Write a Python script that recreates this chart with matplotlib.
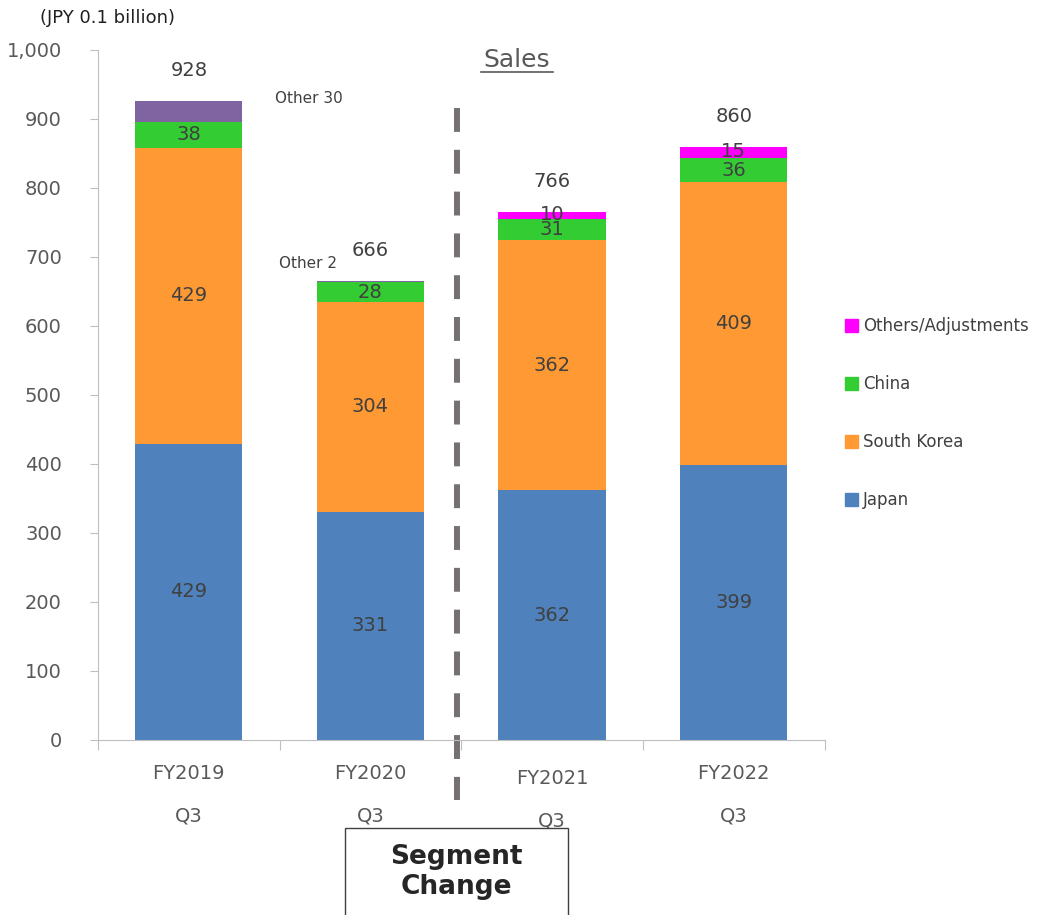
import numpy as np
import matplotlib
matplotlib.use("Agg")
import matplotlib.pyplot as plt
from matplotlib.patches import Rectangle, Patch

# quarterly sales by segment (JPY 0.1 billion)
periods = ["FY2019", "FY2020", "FY2021", "FY2022"]
japan = [429, 331, 362, 399]
south_korea = [429, 304, 362, 409]
china = [38, 28, 31, 36]
other_old = [30, 2, 0, 0]        # pre-change "Other" segment
others_adj = [0, 0, 10, 15]      # post-change Others/Adjustments
totals = [928, 666, 766, 860]

c_japan = "#4F81BD"
c_korea = "#FF9933"
c_china = "#33CC33"
c_other = "#8064A2"
c_adj = "#FF00FF"
txt = "#404040"
tick_c = "#595959"

fig = plt.figure(figsize=(10.45, 9.15), dpi=100)
ax = fig.add_axes([0.0938, 0.1913, 0.6952, 0.7541])

x = np.arange(len(periods))
w = 0.59
b1 = np.array(japan)
b2 = b1 + np.array(south_korea)
b3 = b2 + np.array(china)
b4 = b3 + np.array(other_old)

ax.bar(x, japan, w, color=c_japan)
ax.bar(x, south_korea, w, bottom=b1, color=c_korea)
ax.bar(x, china, w, bottom=b2, color=c_china)
ax.bar(x, other_old, w, bottom=b3, color=c_other)
ax.bar(x, others_adj, w, bottom=b4, color=c_adj)

for i in range(len(x)):
    ax.text(x[i], b1[i] / 2, str(japan[i]), ha="center", va="center", fontsize=14, color=txt)
    ax.text(x[i], b1[i] + south_korea[i] / 2, str(south_korea[i]), ha="center", va="center", fontsize=14, color=txt)
    ax.text(x[i], b2[i] + china[i] / 2, str(china[i]), ha="center", va="center", fontsize=14, color=txt)
    if others_adj[i]:
        ax.text(x[i], b4[i] + others_adj[i] / 2 + 2, str(others_adj[i]), ha="center", va="center", fontsize=14, color=txt)
    ax.text(x[i], b4[i] + others_adj[i] + 44, str(totals[i]), ha="center", va="center", fontsize=14, color=txt)

# labels for the small old "Other" segment
ax.text(0.474, 929, "Other %d" % other_old[0], ha="left", va="center", fontsize=11, color=txt)
ax.text(0.496, 690, "Other %d" % other_old[1], ha="left", va="center", fontsize=11, color=txt)

ax.set_xlim(-0.5, 3.5)
ax.set_ylim(0, 1000)
ax.set_yticks(range(0, 1001, 100))
ax.set_yticklabels(["{:,}".format(v) for v in range(0, 1001, 100)])
ax.tick_params(axis="y", colors="#BFBFBF", labelcolor=tick_c, labelsize=14, length=6, direction="out", pad=20)
ax.set_xticks(np.arange(-0.5, 3.6, 1.0))
ax.set_xticklabels([])
ax.tick_params(axis="x", colors="#BFBFBF", length=7, direction="out")
for s in ["top", "right"]:
    ax.spines[s].set_visible(False)
ax.spines["left"].set_color("#BFBFBF")
ax.spines["bottom"].set_color("#BFBFBF")

# category labels on two lines
for i, p in enumerate(periods):
    dy = 8 if i == 2 else 0
    ax.text(x[i], -48 - dy, p, ha="center", va="center", fontsize=14, color=tick_c, clip_on=False)
    ax.text(x[i], -110 - dy, "Q3", ha="center", va="center", fontsize=14, color=tick_c, clip_on=False)

# segment change divider
ax.plot([1.475, 1.475], [916, -87], color="#767171", lw=4.3, ls=(0, (4, 3)),
        solid_capstyle="butt", dash_capstyle="butt", clip_on=False)

ax.text(1.805, 985, "Sales", ha="center", va="center", fontsize=18, color=tick_c)
ax.plot([1.607, 2.003], [968, 968], color=tick_c, lw=1.2)

fig.text(0.038, 0.98, "(JPY 0.1 billion)", ha="left", va="center", fontsize=13, color="#202020")

handles = [Patch(color=c_adj), Patch(color=c_china), Patch(color=c_korea), Patch(color=c_japan)]
labels = ["Others/Adjustments", "China", "South Korea", "Japan"]
fig.legend(handles, labels, loc="upper left", bbox_to_anchor=(0.794, 0.67), frameon=False,
           fontsize=12, labelspacing=2.4, handlelength=0.8, handleheight=0.8, handletextpad=0.3,
           labelcolor=txt)

# "Segment Change" box
fig.add_artist(Rectangle((345 / 1045, -0.02), 223 / 1045, 0.115, transform=fig.transFigure,
                         facecolor="white", edgecolor="#404040", lw=1))
fig.text(456 / 1045, 1 - 872 / 915, "Segment\nChange", ha="center", va="center",
         fontsize=19, fontweight="bold", color="#262626", linespacing=1.25)

fig.savefig("out.png", dpi=100)
